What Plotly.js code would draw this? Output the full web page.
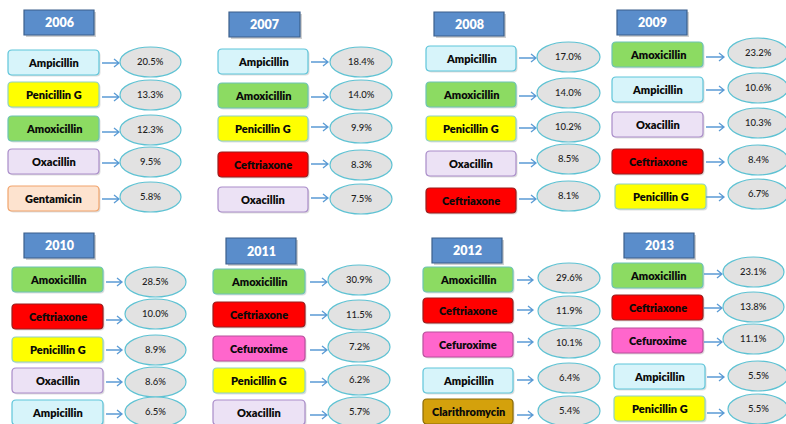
<!DOCTYPE html>
<html>
<head>
<meta charset="utf-8">
<script src="https://cdn.plot.ly/plotly-3.0.1.min.js"></script>
<style>html,body{margin:0;padding:0;background:#fff;}#chart{width:786px;height:424px;}</style>
</head>
<body>
<div id="chart"></div>
<script>
// ---------------- DATA ----------------
const years = ['2006', '2007', '2008', '2009', '2010', '2011', '2012', '2013'];
const drugs2006 = ['Ampicillin', 'Penicillin G', 'Amoxicillin', 'Oxacillin', 'Gentamicin'];
const pct2006 = [20.5, 13.3, 12.3, 9.5, 5.8];
const drugs2007 = ['Ampicillin', 'Amoxicillin', 'Penicillin G', 'Ceftriaxone', 'Oxacillin'];
const pct2007 = [18.4, 14.0, 9.9, 8.3, 7.5];
const drugs2008 = ['Ampicillin', 'Amoxicillin', 'Penicillin G', 'Oxacillin', 'Ceftriaxone'];
const pct2008 = [17.0, 14.0, 10.2, 8.5, 8.1];
const drugs2009 = ['Amoxicillin', 'Ampicillin', 'Oxacillin', 'Ceftriaxone', 'Penicillin G'];
const pct2009 = [23.2, 10.6, 10.3, 8.4, 6.7];
const drugs2010 = ['Amoxicillin', 'Ceftriaxone', 'Penicillin G', 'Oxacillin', 'Ampicillin'];
const pct2010 = [28.5, 10.0, 8.9, 8.6, 6.5];
const drugs2011 = ['Amoxicillin', 'Ceftriaxone', 'Cefuroxime', 'Penicillin G', 'Oxacillin'];
const pct2011 = [30.9, 11.5, 7.2, 6.2, 5.7];
const drugs2012 = ['Amoxicillin', 'Ceftriaxone', 'Cefuroxime', 'Ampicillin', 'Clarithromycin'];
const pct2012 = [29.6, 11.9, 10.1, 6.4, 5.4];
const drugs2013 = ['Amoxicillin', 'Ceftriaxone', 'Cefuroxime', 'Ampicillin', 'Penicillin G'];
const pct2013 = [23.1, 13.8, 11.1, 5.5, 5.5];

const drugsByYear = [drugs2006, drugs2007, drugs2008, drugs2009, drugs2010, drugs2011, drugs2012, drugs2013];
const pctByYear = [pct2006, pct2007, pct2008, pct2009, pct2010, pct2011, pct2012, pct2013];

// ---------------- STYLES ----------------
const drugStyle = {
  'Ampicillin':     {fill: '#d7f4fa', line: '#5fc5da'},
  'Penicillin G':   {fill: '#ffff00', line: '#8fd2c2'},
  'Amoxicillin':    {fill: '#8cdb62', line: '#6cc3b4'},
  'Oxacillin':      {fill: '#ece2f5', line: '#a98cc9'},
  'Gentamicin':     {fill: '#fde3cf', line: '#f1a46c'},
  'Ceftriaxone':    {fill: '#ff0000', line: '#9a1d1d'},
  'Cefuroxime':     {fill: '#ff66cc', line: '#b8509c'},
  'Clarithromycin': {fill: '#d4a10c', line: '#8a6a08'}
};
const FONT = 'Lato, "Open Sans", "DejaVu Sans", sans-serif';

// ---------------- LAYOUT POSITIONS (pixels) ----------------
const POS = [
  {year:[24,10,94,35],  boxX:[8,99],    rows:[50,82,116,149,186],  ellX:[120,181], ellC:[62,95,130,162,197], arX:[102,119], arY:[63,97,132,163,199]},
  {year:[229,12,300,37],boxX:[218,308], rows:[49,83,116,152,187],  ellX:[330,392], ellC:[62,95,128,165,199], arX:[311,328], arY:[62,97,127,164,198]},
  {year:[434,12,504,36],boxX:[426,516], rows:[46,82,116,151,188],  ellX:[537,600], ellC:[57,93,127,159,196], arX:[519,536], arY:[58,96,128,163,199]},
  {year:[617,10,687,35],boxX:[612,703], boxXo:{4:[615,706]}, rows:[42,77,112,149,184], ellX:[728,788], ellC:[53,88,123,160,194], arX:[706,724], arY:[57,90,127,162,197]},
  {year:[24,233,94,258],boxX:[12,103],  rows:[267,304,337,368,400],ellX:[125,186], ellC:[282,314,350,382,412], arX:[106,122], arY:[282,320,350,382,414]},
  {year:[226,238,296,264],boxX:[213,305], rows:[269,302,336,368,400],ellX:[328,390], ellC:[280,315,347,380,412], arX:[310,327], arY:[282,315,350,382,415]},
  {year:[432,238,502,263],boxX:[423,513], rows:[267,298,332,368,399],ellX:[538,600], ellC:[278,311,343,378,411], arX:[517,533], arY:[280,310,342,380,415]},
  {year:[624,233,694,258],boxX:[612,703], boxXo:{3:[614,705],4:[614,705]}, rows:[263,295,328,364,396], ellX:[723,784], ellXo:{3:[728,788],4:[728,788]}, ellC:[272,307,339,376,409], arX:[704,722], arXo:{3:[707,724],4:[707,724]}, arY:[274,308,342,377,413]}
];
const BOX_H = 25, ELL_H = 30, R = 4;

function roundRect(x0, y0, x1, y1, r) {
  return `M${x0+r},${y0} L${x1-r},${y0} Q${x1},${y0} ${x1},${y0+r} L${x1},${y1-r} Q${x1},${y1} ${x1-r},${y1} L${x0+r},${y1} Q${x0},${y1} ${x0},${y1-r} L${x0},${y0+r} Q${x0},${y0} ${x0+r},${y0} Z`;
}

const shapes = [];
const annotations = [];

years.forEach((yr, p) => {
  const P = POS[p];
  const [yx0, yy0, yx1, yy1] = P.year;
  shapes.push({type:'rect', xref:'x', yref:'y', x0:yx0+2, y0:yy0+2, x1:yx1+2, y1:yy1+2,
    fillcolor:'rgba(0,0,0,0.18)', line:{width:0}, layer:'below'});
  shapes.push({type:'rect', xref:'x', yref:'y', x0:yx0, y0:yy0, x1:yx1, y1:yy1,
    fillcolor:'#5a8dcb', line:{color:'#3b5f8c', width:1.2}});
  annotations.push({x:(yx0+yx1)/2, y:(yy0+yy1)/2, xref:'x', yref:'y', text:yr,
    showarrow:false, font:{family:FONT, size:12.5, color:'#ffffff', weight:800}});

  drugsByYear[p].forEach((d, i) => {
    const st = drugStyle[d];
    const bx = (P.boxXo && P.boxXo[i]) || P.boxX;
    const y0 = P.rows[i], y1 = y0 + BOX_H;
    shapes.push({type:'path', xref:'x', yref:'y', path:roundRect(bx[0]+1.5, y0+1.5, bx[1]+1.5, y1+1.5, R),
      fillcolor:'rgba(0,0,0,0.13)', line:{width:0}});
    shapes.push({type:'path', xref:'x', yref:'y', path:roundRect(bx[0], y0, bx[1], y1, R),
      fillcolor:st.fill, line:{color:st.line, width:1.2}});
    annotations.push({x:(bx[0]+bx[1])/2, y:(y0+y1)/2, xref:'x', yref:'y', text:d,
      showarrow:false, font:{family:FONT, size:11, color:'#0a0a0a', weight:800}});

    const ax = (P.arXo && P.arXo[i]) || P.arX;
    const ay = P.arY[i];
    shapes.push({type:'path', xref:'x', yref:'y',
      path:`M${ax[0]},${ay} L${ax[1]},${ay} M${ax[1]-5},${ay-4} L${ax[1]},${ay} L${ax[1]-5},${ay+4}`,
      line:{color:'#5b9bd5', width:1.3}});

    const ex = (P.ellXo && P.ellXo[i]) || P.ellX;
    const ec = P.ellC[i];
    shapes.push({type:'circle', xref:'x', yref:'y', x0:ex[0], x1:ex[1], y0:ec-ELL_H/2, y1:ec+ELL_H/2,
      fillcolor:'#e2e2e2', line:{color:'#5ec2d3', width:1.2}});
    annotations.push({x:(ex[0]+ex[1])/2, y:ec-1, xref:'x', yref:'y', text:pctByYear[p][i].toFixed(1)+'%',
      showarrow:false, font:{family:FONT, size:9.5, color:'#1e1e1e', weight:500}});
  });
});

const layout = {
  width:786, height:424,
  margin:{l:0, r:0, t:0, b:0},
  paper_bgcolor:'#ffffff', plot_bgcolor:'#ffffff',
  xaxis:{range:[0,786], visible:false, fixedrange:true},
  yaxis:{range:[424,0], visible:false, fixedrange:true},
  showlegend:false,
  shapes:shapes,
  annotations:annotations
};

Plotly.newPlot('chart', [], layout, {staticPlot:true, displayModeBar:false});
</script>
</body>
</html>
